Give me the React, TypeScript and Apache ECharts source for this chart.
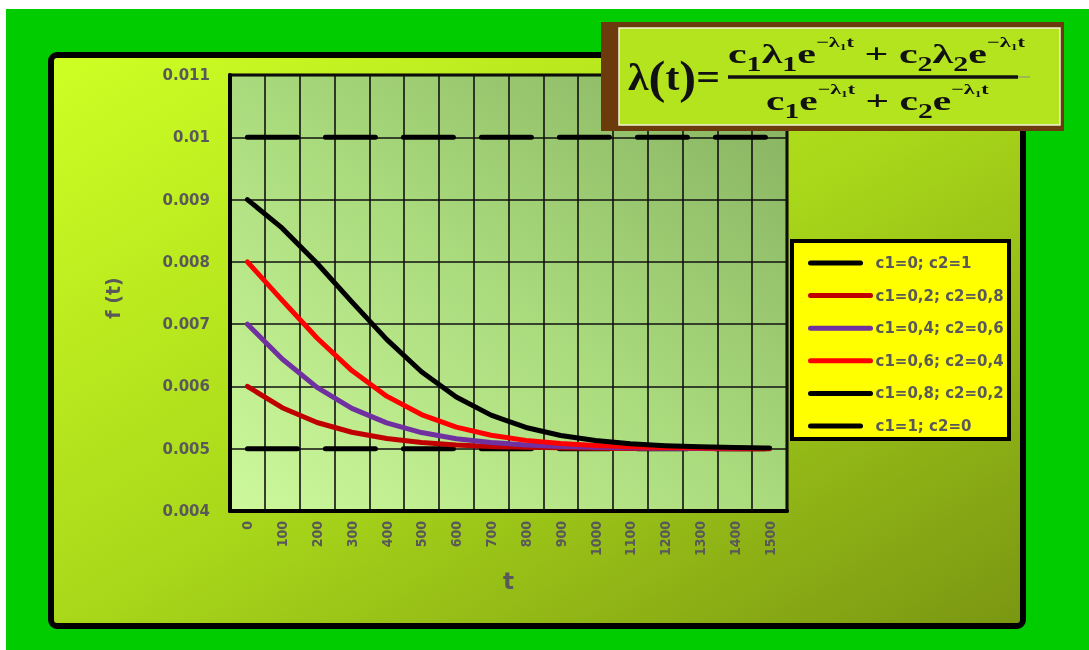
import React, { useEffect, useRef } from "react";
import * as echarts from "echarts";

// Time axis categories
const T_LABELS = ["0", "100", "200", "300", "400", "500", "600", "700", "800", "900", "1000", "1100", "1200", "1300", "1400", "1500"];

// Series names (legend order)
const SERIES_NAMES = ["c1=0; c2=1", "c1=0,2; c2=0,8", "c1=0,4; c2=0,6", "c1=0,6; c2=0,4", "c1=0,8; c2=0,2", "c1=1; c2=0"];
const SERIES_COLORS = ["#000000", "#c00000", "#7030a0", "#ff0000", "#000000", "#000000"];
const SERIES_DASHED = [true, false, false, false, false, true];

// f(t) values per series
const C1_00 = [0.005, 0.005, 0.005, 0.005, 0.005, 0.005, 0.005, 0.005, 0.005, 0.005, 0.005, 0.005, 0.005, 0.005, 0.005, 0.005];
const C1_02 = [0.006, 0.005658, 0.005421, 0.005264, 0.005164, 0.005101, 0.005061, 0.005037, 0.005023, 0.005014, 0.005008, 0.005005, 0.005003, 0.005002, 0.005001, 0.005001];
const C1_04 = [0.007, 0.00644, 0.005985, 0.005647, 0.005414, 0.005259, 0.005161, 0.005099, 0.00506, 0.005037, 0.005022, 0.005014, 0.005008, 0.005005, 0.005003, 0.005002];
const C1_06 = [0.008, 0.007382, 0.006778, 0.006254, 0.005844, 0.005548, 0.005347, 0.005217, 0.005134, 0.005082, 0.00505, 0.00503, 0.005019, 0.005011, 0.005007, 0.005004];
const C1_08 = [0.009, 0.008541, 0.007977, 0.007358, 0.006756, 0.006236, 0.00583, 0.005539, 0.005341, 0.005213, 0.005131, 0.00508, 0.005049, 0.00503, 0.005018, 0.005011];
const C1_10 = [0.01, 0.01, 0.01, 0.01, 0.01, 0.01, 0.01, 0.01, 0.01, 0.01, 0.01, 0.01, 0.01, 0.01, 0.01, 0.01];
const SERIES_DATA = [C1_00, C1_02, C1_04, C1_06, C1_08, C1_10];

// Y axis range
const Y_MIN = 0.004;
const Y_MAX = 0.011;
const Y_STEP = 0.001;

const LABEL_GRAY = "#595959";
const SANS = "DejaVu Sans";
const SANS_NARROW = "'DejaVu Sans Condensed', 'DejaVu Sans'";
const SERIF = "Liberation Serif";
const LINE_W = 5;

const formulaRich = {
  m: { fontSize: 28, fontFamily: SERIF, fontWeight: "bold", fill: "#111", lineHeight: 40 },
  s: { fontSize: 20, fontFamily: SERIF, fontWeight: "bold", fill: "#111", lineHeight: 20, verticalAlign: "bottom" },
  p: { fontSize: 15, fontFamily: SERIF, fontWeight: "bold", fill: "#111", lineHeight: 18, verticalAlign: "top" },
  q: { fontSize: 9, fontFamily: SERIF, fontWeight: "bold", fill: "#111", verticalAlign: "top", padding: [8, 0, 0, 0] },
};

export default function App() {
  const ref = useRef<HTMLDivElement>(null);

  useEffect(() => {
    if (!ref.current) return;
    const chart = echarts.init(ref.current, undefined, { renderer: "svg" });

    const series = SERIES_NAMES.map((name, i) => ({
      name,
      type: "line",
      data: SERIES_DATA[i],
      symbol: "none",
      z: 3 + i,
      itemStyle: { color: SERIES_COLORS[i] },
      lineStyle: {
        color: SERIES_COLORS[i],
        width: LINE_W,
        cap: "round",
        join: "round",
        type: SERIES_DASHED[i] ? [50, 28] : "solid",
      },
    }));

    chart.setOption({
      animation: false,
      grid: {
        left: 230,
        top: 75,
        right: 302,
        bottom: 139,
        show: true,
        borderColor: "#000",
        borderWidth: 3,
        backgroundColor: new echarts.graphic.LinearGradient(0, 1, 1, 0, [
          { offset: 0, color: "#cdf99c" },
          { offset: 0.5, color: "#a9da7c" },
          { offset: 1, color: "#86b060" },
        ]),
      },
      legend: {
        orient: "vertical",
        left: 803,
        top: 250,
        itemWidth: 60,
        itemHeight: 16,
        itemGap: 16.6,
        selectedMode: false,
        data: SERIES_NAMES,
        itemStyle: { opacity: 0 },
        lineStyle: { width: LINE_W, cap: "round" },
        textStyle: { color: LABEL_GRAY, fontWeight: "bold", fontSize: 15, fontFamily: SANS, lineHeight: 16 },
      },
      xAxis: {
        type: "category",
        data: T_LABELS,
        boundaryGap: true,
        name: "t",
        nameLocation: "middle",
        nameGap: 58,
        nameTextStyle: { color: LABEL_GRAY, fontWeight: "bold", fontSize: 23, fontFamily: SANS },
        axisLine: { lineStyle: { color: "#000", width: 4 } },
        axisTick: { show: false },
        axisLabel: {
          rotate: 90,
          interval: 0,
          margin: 10,
          color: LABEL_GRAY,
          fontWeight: "bold",
          fontSize: 14,
          fontFamily: SANS_NARROW,
        },
        splitLine: { show: true, interval: 0, lineStyle: { color: "#111", width: 1.6 } },
      },
      yAxis: {
        type: "value",
        min: Y_MIN,
        max: Y_MAX,
        interval: Y_STEP,
        name: "f (t)",
        nameLocation: "middle",
        nameGap: 108,
        nameTextStyle: { color: LABEL_GRAY, fontWeight: "bold", fontSize: 19, fontFamily: SANS, padding: [0, 10, 0, 0] },
        axisLine: { show: true, lineStyle: { color: "#000", width: 4 } },
        axisTick: { show: false },
        axisLabel: {
          margin: 20,
          color: LABEL_GRAY,
          fontWeight: "bold",
          fontSize: 15,
          fontFamily: SANS,
          formatter: (v: number) => String(parseFloat(v.toFixed(3))),
        },
        splitLine: { show: true, lineStyle: { color: "#111", width: 1.6 } },
      },
      series,
      graphic: [
        // page backdrop
        { type: "rect", z: -20, silent: true, shape: { x: 6, y: 9, width: 1083, height: 641 }, style: { fill: "#00cc00" } },
        // chart frame
        {
          type: "rect",
          z: -10,
          silent: true,
          shape: { x: 51, y: 55, width: 972, height: 571, r: 6 },
          style: {
            fill: new echarts.graphic.LinearGradient(0, 0, 1, 1, [
              { offset: 0, color: "#ceff24" },
              { offset: 0.5, color: "#a9d81a" },
              { offset: 1, color: "#7a9612" },
            ]),
            stroke: "#000",
            lineWidth: 6,
          },
        },
        // legend panel
        { type: "rect", z: -5, silent: true, shape: { x: 792, y: 241, width: 217, height: 198 }, style: { fill: "#ffff00", stroke: "#000", lineWidth: 4 } },
        // formula panel
        { type: "rect", z: 50, silent: true, shape: { x: 601, y: 22, width: 463, height: 109 }, style: { fill: "#6b3b0b" } },
        { type: "rect", z: 51, silent: true, shape: { x: 619, y: 28, width: 441, height: 97 }, style: { fill: "#b4e41e", stroke: "#eef3d6", lineWidth: 1.5 } },
        {
          type: "text",
          z: 52,
          x: 628,
          y: 77,
          scaleX: 1.1,
          style: {
            text: "{a|λ}{b|(}{a|t}{b|)}{a|=}",
            align: "left",
            verticalAlign: "middle",
            rich: {
              a: { fontSize: 38, fontFamily: SERIF, fontWeight: "bold", fill: "#111" },
              b: { fontSize: 46, fontFamily: SERIF, fontWeight: "bold", fill: "#111" },
            },
          },
        },
        {
          type: "text",
          z: 52,
          x: 728,
          y: 34,
          scaleX: 1.5,
          style: {
            text: "{m|c}{s|1}{m|λ}{s|1}{m|e}{p|−λ}{q|1}{p|t}{m| + c}{s|2}{m|λ}{s|2}{m|e}{p|−λ}{q|1}{p|t}",
            align: "left",
            verticalAlign: "top",
            rich: formulaRich,
          },
        },
        { type: "line", z: 52, silent: true, shape: { x1: 728, y1: 77, x2: 1018, y2: 77 }, style: { stroke: "#111", lineWidth: 3.5 } },
        { type: "line", z: 52, silent: true, shape: { x1: 1018, y1: 77, x2: 1030, y2: 77 }, style: { stroke: "#8a8a8a", lineWidth: 1 } },
        {
          type: "text",
          z: 52,
          x: 766,
          y: 81,
          scaleX: 1.48,
          style: {
            text: "{m|c}{s|1}{m|e}{p|−λ}{q|1}{p|t}{m| + c}{s|2}{m|e}{p|−λ}{q|1}{p|t}",
            align: "left",
            verticalAlign: "top",
            rich: formulaRich,
          },
        },
      ],
    });

    return () => chart.dispose();
  }, []);

  return <div ref={ref} style={{ position: "fixed", left: 0, top: 0, width: 1089, height: 650 }} />;
}
